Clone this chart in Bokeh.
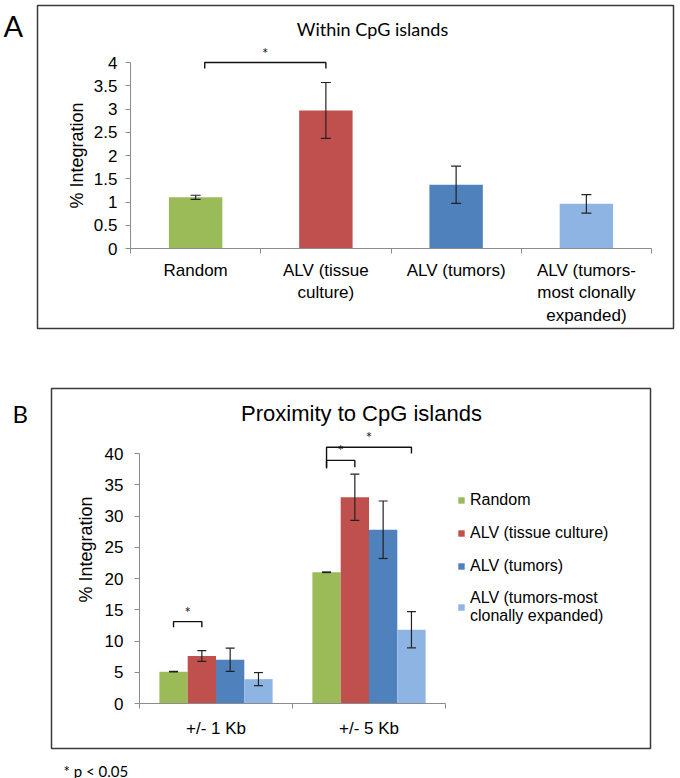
import math
import numpy as np
from bokeh.plotting import figure
from bokeh.models import (ColumnDataSource, Whisker, TeeHead, FixedTicker,
                          NumeralTickFormatter, Label, BoxAnnotation, Range1d)
from bokeh.layouts import column
from bokeh.embed import file_html
from bokeh.resources import INLINE

# ---------------- data ----------------
# Panel A: within CpG islands
cats_a = ["Random", "ALV (tissue\nculture)", "ALV (tumors)",
          "ALV (tumors-\nmost clonally\nexpanded)"]
vals_a = [1.10, 2.97, 1.37, 0.96]
errs_a = [0.045, 0.60, 0.40, 0.20]
yticks_a = [0, 0.5, 1, 1.5, 2, 2.5, 3, 3.5, 4]

# Panel B: proximity to CpG islands
groups_b = ["+/- 1 Kb", "+/- 5 Kb"]
series_b = ["Random", "ALV (tissue culture)", "ALV (tumors)",
            "ALV (tumors-most\nclonally expanded)"]
random_b = [5.1, 21.0]
random_err = [0.05, 0.05]
tissue_b = [7.6, 33.0]
tissue_err = [0.85, 3.7]
tumors_b = [7.0, 27.8]
tumors_err = [1.85, 4.6]
clonal_b = [3.9, 11.8]
clonal_err = [1.05, 2.9]
yticks_b = [0, 5, 10, 15, 20, 25, 30, 35, 40]

colors = ["#9BBB59", "#C0504D", "#4F81BD", "#8EB4E3"]

# ---------------- layout constants (pixels) ----------------
W = 680
HA, HB = 345, 433
# panel A: pixel of data origin and pixels per unit
A_X0, A_XU, A_Y0, A_YU = 130, 130.25, 248, 46.5
# panel B (y measured inside figure B)
B_X0, B_XU, B_Y0, B_YU = 139, 153.0, 358, 6.25

AX_FONT = "Liberation Sans"
CAL_FONT = "Lato"
AX_COLOR = "#8c8c8c"
INK = "#111111"


def make_fig(h, x0, xu, y0, yu):
    xr = Range1d(-x0 / xu, (W - x0) / xu)
    yr = Range1d((y0 - h) / yu, y0 / yu)
    p = figure(width=W, height=h, x_range=xr, y_range=yr,
               output_backend="svg", toolbar_location=None,
               min_border=0, min_border_left=0, min_border_right=0,
               min_border_top=0, min_border_bottom=0)
    p.xgrid.visible = False
    p.ygrid.visible = False
    p.outline_line_color = None
    p.background_fill_color = "white"
    p.border_fill_color = "white"
    for ax in (p.xaxis[0], p.yaxis[0]):
        ax.fixed_location = 0
        ax.axis_line_color = AX_COLOR
        ax.major_tick_line_color = AX_COLOR
        ax.minor_tick_line_color = AX_COLOR
        ax.major_tick_in = 0
        ax.major_tick_out = 5
        ax.minor_tick_in = 0
        ax.minor_tick_out = 5
        ax.major_label_text_font = AX_FONT
        ax.major_label_text_font_size = "17px"
        ax.major_label_text_color = "black"
        ax.axis_label_text_font = AX_FONT
        ax.axis_label_text_font_size = "18px"
        ax.axis_label_text_font_style = "normal"
        ax.axis_label_text_color = "black"
    p.xaxis[0].major_tick_line_color = None
    return p


def bracket(p, xl, xr, h, dl, dr):
    p.line(x=[xl, xl, xr, xr], y=[h - dl, h, h, h - dr],
           line_color=INK, line_width=1.4)
    p.add_layout(Label(x=(xl + xr) / 2, y=h, y_offset=1, text="*", text_align="center",
                       text_font=CAL_FONT, text_font_size="15px", text_color=INK))


def whisker(p, src, size):
    p.add_layout(Whisker(base="x", upper="upper", lower="lower", source=src,
                         level="annotation",
                         line_color="#222222", line_width=1.2,
                         upper_head=TeeHead(size=size, line_color="#222222", line_width=1.2),
                         lower_head=TeeHead(size=size, line_color="#222222", line_width=1.2)))


def canvas_label(p, x, y, text, font, size, align="left", angle=0.0, baseline="alphabetic"):
    p.add_layout(Label(x=x, y=y, x_units="canvas", y_units="canvas", text=text,
                       text_font=font, text_font_size=size, text_align=align,
                       text_baseline=baseline, angle=angle, text_color="black"))


def canvas_box(p, l, t, r, b):
    p.add_layout(BoxAnnotation(left=l, right=r, top=t, bottom=b,
                               left_units="canvas", right_units="canvas",
                               top_units="canvas", bottom_units="canvas",
                               fill_alpha=0, line_color="#3a3a3a", line_alpha=1.0,
                               line_width=1.5))


# ---------------- panel A ----------------
pa = make_fig(HA, A_X0, A_XU, A_Y0, A_YU)
xa = np.arange(len(cats_a)) + 0.5
src_a = ColumnDataSource(dict(
    x=xa, top=vals_a,
    upper=np.array(vals_a) + np.array(errs_a),
    lower=np.array(vals_a) - np.array(errs_a),
    color=colors))
pa.vbar(x="x", top="top", width=0.41, fill_color="color", line_color=None, source=src_a)
whisker(pa, src_a, 10)
pa.xaxis.ticker = FixedTicker(ticks=list(xa), minor_ticks=list(range(len(cats_a) + 1)))
pa.xaxis.major_label_overrides = {float(x): c for x, c in zip(xa, cats_a)}
pa.xaxis.bounds = (0, len(cats_a))
pa.xaxis.major_label_standoff = 7
pa.yaxis.ticker = FixedTicker(ticks=yticks_a)
pa.yaxis.formatter = NumeralTickFormatter(format="0.[0]")
pa.yaxis.bounds = (yticks_a[0], yticks_a[-1])
pa.yaxis.axis_label = "% Integration"
pa.yaxis.major_label_standoff = 8
pa.yaxis.axis_label_standoff = 4

# significance: Random vs ALV (tissue culture)
sig_a = [(0, 1, 4.0, 0.13, 0.13)]
for i, j, h, dl, dr in sig_a:
    bracket(pa, xa[i] + 0.07, xa[j], h, dl, dr)

canvas_box(pa, 37, 5, 673, 328)
canvas_label(pa, 3, 25, "A", CAL_FONT, "29px")
canvas_label(pa, 372, 28, "Within CpG islands", CAL_FONT, "18px", align="center")

# ---------------- panel B ----------------
pb = make_fig(HB, B_X0, B_XU, B_Y0, B_YU)
xg = np.arange(len(groups_b)) + 0.5
bw = 0.185
offsets = [-1.5 * bw, -0.5 * bw, 0.5 * bw, 1.5 * bw]
vals_b = [random_b, tissue_b, tumors_b, clonal_b]
errs_b = [random_err, tissue_err, tumors_err, clonal_err]
bar_x = []
for s, name in enumerate(series_b):
    xs = xg + offsets[s]
    bar_x.append(xs)
    src = ColumnDataSource(dict(
        x=xs, top=vals_b[s],
        upper=np.array(vals_b[s]) + np.array(errs_b[s]),
        lower=np.array(vals_b[s]) - np.array(errs_b[s])))
    pb.vbar(x="x", top="top", width=bw, fill_color=colors[s], line_color=None,
            source=src, legend_label=name)
    whisker(pb, src, 9)
pb.xaxis.ticker = FixedTicker(ticks=list(xg), minor_ticks=list(range(len(groups_b) + 1)))
pb.xaxis.major_label_overrides = {float(x): g for x, g in zip(xg, groups_b)}
pb.xaxis.bounds = (0, len(groups_b))
pb.xaxis.major_label_standoff = 10
pb.yaxis.ticker = FixedTicker(ticks=yticks_b)
pb.yaxis.bounds = (yticks_b[0], yticks_b[-1])
pb.yaxis.major_label_standoff = 11

# significance brackets: ((group, series), (group, series), height, left drop, right drop)
sig_b = [((0, 0), (0, 1), 13.1, 0.9, 0.9),
         ((1, 0), (1, 1), 38.9, 1.1, 1.1),
         ((1, 0), (1, 3), 41.0, 3.4, 1.0)]
for (gi, si), (gj, sj), h, dl, dr in sig_b:
    bracket(pb, bar_x[si][gi], bar_x[sj][gj], h, dl, dr)

lg = pb.legend[0]
lg.location = (457, 153)
lg.padding = 0
lg.margin = 0
lg.spacing = 13
lg.border_line_color = None
lg.background_fill_alpha = 0
lg.glyph_width = 8
lg.glyph_height = 8
lg.label_height = 20
lg.label_standoff = 5
lg.label_text_font = AX_FONT
lg.label_text_font_size = "16px"
lg.label_text_color = "black"

canvas_box(pb, 51, 43, 650, 403)
canvas_label(pb, 85, 204, "% Integration", AX_FONT, "18px", align="center",
             angle=math.pi / 2, baseline="middle")
canvas_label(pb, 12, 68, "B", CAL_FONT, "24px")
canvas_label(pb, 361, 68, "Proximity to CpG islands", AX_FONT, "22px", align="center")
canvas_label(pb, 63, 425, "* p < 0.05", CAL_FONT, "15px")

layout = column(pa, pb, spacing=0)
open("out.html", "w").write(file_html(layout, INLINE))
